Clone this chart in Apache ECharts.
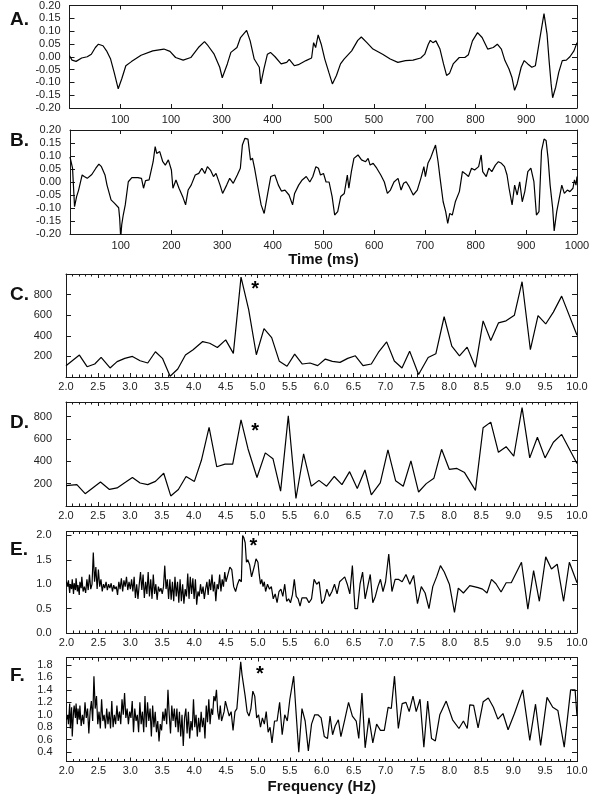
<!DOCTYPE html>
<html>
<head>
<meta charset="utf-8">
<script src="https://cdn.jsdelivr.net/npm/echarts@6/dist/echarts.min.js"></script>
<style>
  html, body { margin: 0; padding: 0; background: #fff; }
  #chart { width: 600px; height: 800px; }
</style>
</head>
<body>
<div id="chart"></div>
<script>
// ---- data ----
// A: averaged waveform, [time ms, amplitude]
const traceA = [[0,0.004],[5,-0.013],[13,-0.018],[24,-0.005],[35,0],[43,0.010],[51,0.036],[57,0.049],[66,0.043],[73,0.023],
  [81,-0.009],[88,-0.061],[96,-0.125],[103,-0.086],[111,-0.035],[122,-0.019],[141,0.006],[164,0.023],[186,0.030],[198,0.021],
  [209,-0.003],[224,-0.013],[239,-0.003],[254,0.036],[266,0.059],[273,0.043],[285,0.010],[296,-0.041],[301,-0.082],[311,-0.028],
  [318,0.017],[330,0.036],[337,0.075],[349,0.103],[356,0.062],[364,-0.009],[374,-0.041],[377,-0.106],[383,-0.048],[390,0.010],
  [396,0.017],[405,0],[417,-0.028],[428,-0.022],[433,-0.010],[443,-0.035],[451,-0.031],[466,-0.015],[477,-0.005],[481,0.055],
  [485,0.036],[490,0.085],[496,0.049],[503,-0.009],[511,-0.061],[518,-0.106],[526,-0.073],[534,-0.028],[541,-0.009],[556,0.023],
  [568,0.064],[575,0.077],[586,0.055],[598,0.030],[617,0.010],[632,-0.009],[647,-0.022],[662,-0.015],[677,-0.013],[692,-0.005],
  [700,0.010],[707,0.049],[711,0.064],[716,0.055],[722,0.062],[730,0.030],[737,-0.028],[743,-0.073],[749,-0.064],[756,-0.028],
  [768,-0.003],[779,-0.003],[786,0.008],[794,0.062],[804,0.094],[813,0.075],[824,0.030],[835,0.036],[843,0.049],[851,0.030],
  [858,-0.015],[866,-0.048],[872,-0.082],[877,-0.131],[882,-0.106],[890,-0.041],[896,-0.015],[903,-0.028],[911,-0.041],[918,-0.035],
  [926,0.062],[929,0.068],[935,0.168],[941,0.088],[945,-0.015],[949,-0.106],[952,-0.160],[958,-0.119],[964,-0.061],[971,-0.015],
  [979,-0.013],[986,0],[994,0.023],[1000,0.055]];

// B: single-trial waveform, [time ms, amplitude]
const traceB = [[0,0.097],[5,0.053],[9,-0.095],[13,-0.056],[17,-0.031],[20,-0.025],[24,0.027],[28,0.021],[34,0.014],[43,0.029],
  [51,0.053],[57,0.069],[62,0.059],[69,0.027],[73,-0.012],[81,-0.069],[88,-0.082],[96,-0.099],[98,-0.140],[100,-0.215],
  [102,-0.165],[105,-0.127],[109,-0.088],[115,0.001],[122,0.017],[134,0.017],[141,0.014],[145,-0.024],[149,0.005],[156,0.008],
  [164,0.078],[168,0.136],[171,0.110],[177,0.117],[183,0.078],[188,0.065],[194,0.085],[200,0.046],[203,-0.024],[209,0.008],
  [215,-0.024],[223,-0.060],[228,-0.088],[233,-0.031],[239,-0.012],[247,0.027],[254,0.033],[260,0.053],[266,0.033],[271,0.059],
  [277,0.046],[283,0.021],[288,0.033],[296,-0.012],[301,-0.044],[309,-0.012],[315,0.014],[322,-0.005],[330,0.027],[336,0.053],
  [340,0.142],[345,0.168],[351,0.165],[356,0.085],[360,0.091],[364,0.053],[371,-0.024],[377,-0.088],[383,-0.121],[390,-0.044],
  [396,0.021],[404,0.027],[411,-0.012],[417,-0.035],[424,-0.031],[432,-0.050],[439,-0.088],[443,-0.044],[451,-0.012],[458,0.008],
  [466,0.021],[473,0],[479,0.021],[485,0.059],[490,0.053],[494,0.027],[500,0.033],[505,0],[511,0],[517,-0.056],
  [522,-0.127],[528,-0.114],[534,-0.056],[541,-0.044],[547,0.027],[550,-0.024],[555,0.040],[560,0.091],[568,0.104],[575,0.085],
  [583,0.078],[588,0.091],[592,0.065],[598,0.072],[605,0.053],[613,0.027],[620,0],[626,-0.044],[632,-0.031],[639,0],
  [647,0.014],[653,-0.031],[658,-0.005],[663,0.001],[669,-0.018],[677,-0.050],[685,-0.031],[692,0.014],[698,0.059],[701,0.021],
  [706,0.072],[711,0.091],[716,0.117],[721,0.142],[726,0.078],[730,0.014],[736,-0.076],[741,-0.114],[745,-0.159],[749,-0.121],
  [754,-0.127],[760,-0.076],[768,-0.037],[774,0.040],[779,0.033],[786,0.021],[792,0.053],[798,0.046],[806,0.059],[811,0.104],
  [814,0.040],[821,0.021],[826,0.053],[832,0.040],[839,0.065],[845,0.078],[851,0.072],[857,0.059],[862,0.027],[866,-0.024],
  [872,-0.088],[877,-0.012],[882,-0.050],[887,0.001],[892,-0.076],[897,-0.037],[903,0.040],[909,0.053],[915,0.001],[920,-0.127],
  [925,-0.114],[930,0.120],[935,0.165],[939,0.160],[943,0.090],[947,-0.012],[952,-0.101],[955,-0.188],[960,-0.114],[965,-0.063],
  [970,-0.012],[975,-0.044],[981,-0.031],[986,-0.037],[992,-0.024],[995,0.008],[998,-0.012],[1000,0.021]];

// C, D: power spectra, [frequency Hz, power]
const spectrumC = [[2.0,110],[2.21,213],[2.33,100],[2.45,126],[2.55,190],[2.69,88],[2.80,149],[2.92,181],[3.04,200],[3.16,158],
  [3.28,136],[3.40,245],[3.51,181],[3.63,7],[3.75,78],[3.87,213],[3.99,264],[4.14,344],[4.25,328],[4.37,286],
  [4.50,360],[4.62,229],[4.74,970],[4.86,655],[4.98,216],[5.10,469],[5.22,382],[5.34,152],[5.46,104],[5.58,222],
  [5.70,126],[5.82,136],[5.94,110],[6.06,174],[6.17,152],[6.29,142],[6.41,181],[6.53,206],[6.65,110],[6.78,126],
  [6.89,238],[7.02,341],[7.14,155],[7.26,88],[7.38,251],[7.52,25],[7.67,190],[7.79,225],[7.92,585],[8.04,300],
  [8.16,205],[8.28,290],[8.41,95],[8.53,545],[8.65,355],[8.77,525],[8.89,545],[9.02,600],[9.14,925],[9.27,265],
  [9.39,595],[9.51,515],[9.63,630],[9.76,785],[10.0,405]];

const spectrumD = [[2.0,183],[2.17,191],[2.30,110],[2.54,214],[2.68,148],[2.80,162],[2.93,212],[3.04,255],[3.16,206],[3.28,191],
  [3.40,220],[3.53,293],[3.64,90],[3.76,148],[3.88,264],[4.01,220],[4.12,409],[4.24,704],[4.36,351],[4.49,374],
  [4.61,374],[4.74,771],[4.85,510],[4.99,255],[5.12,475],[5.24,423],[5.36,133],[5.48,806],[5.60,67],[5.72,467],
  [5.84,177],[5.96,229],[6.08,177],[6.20,264],[6.32,191],[6.44,307],[6.56,157],[6.68,322],[6.78,99],[6.92,206],
  [7.04,501],[7.16,226],[7.28,177],[7.40,403],[7.52,125],[7.64,200],[7.76,249],[7.88,507],[8.00,328],[8.12,336],
  [8.24,299],[8.41,140],[8.53,700],[8.65,750],[8.77,480],[8.89,530],[9.01,445],[9.14,880],[9.26,430],[9.38,615],
  [9.50,430],[9.63,570],[9.76,640],[10.0,380]];

// E, F: normalised spectra, [frequency Hz, ratio]
const ratioE = [[2.00,1.05],[2.02,0.95],[2.03,1.08],[2.05,0.82],[2.06,1.00],[2.08,0.90],[2.09,1.10],[2.11,0.80],[2.12,1.02],[2.14,0.88],
  [2.15,1.12],[2.17,0.85],[2.18,0.98],[2.20,0.78],[2.21,1.05],[2.23,0.92],[2.24,1.15],[2.26,0.85],[2.28,0.95],[2.30,0.82],
  [2.32,1.10],[2.34,0.88],[2.36,1.20],[2.38,0.90],[2.40,1.00],[2.42,1.65],[2.44,1.05],[2.46,1.35],[2.48,0.90],[2.50,1.30],
  [2.52,0.95],[2.54,1.10],[2.56,0.85],[2.58,1.00],[2.60,0.92],[2.62,1.05],[2.64,0.88],[2.66,1.00],[2.68,0.92],[2.70,1.02],
  [2.72,0.85],[2.74,0.98],[2.76,0.90],[2.78,0.95],[2.80,0.78],[2.82,1.05],[2.84,0.90],[2.86,1.12],[2.88,0.85],[2.90,1.08],
  [2.92,0.95],[2.94,1.15],[2.96,0.88],[2.98,1.05],[3.00,0.90],[3.02,1.10],[3.04,0.85],[3.06,1.15],[3.08,0.72],[3.10,1.00],
  [3.12,0.70],[3.14,1.00],[3.16,1.25],[3.18,0.88],[3.20,1.20],[3.22,0.72],[3.24,1.05],[3.26,0.80],[3.28,1.25],[3.30,0.75],
  [3.32,1.10],[3.34,0.70],[3.36,1.20],[3.38,0.80],[3.40,1.00],[3.42,0.68],[3.44,0.95],[3.46,0.85],[3.48,0.92],[3.50,0.80],
  [3.52,0.95],[3.54,1.38],[3.56,0.90],[3.58,1.10],[3.60,0.70],[3.62,1.10],[3.64,0.68],[3.66,1.05],[3.68,0.65],[3.70,1.15],
  [3.72,0.75],[3.74,1.05],[3.76,0.62],[3.78,1.10],[3.80,0.65],[3.82,1.00],[3.84,0.60],[3.86,0.90],[3.88,0.75],[3.90,1.22],
  [3.92,0.70],[3.94,1.15],[3.96,0.80],[3.98,1.12],[4.00,0.70],[4.02,1.10],[4.04,0.58],[4.06,0.85],[4.08,0.75],[4.10,1.00],
  [4.12,0.80],[4.14,0.95],[4.16,0.70],[4.18,0.90],[4.20,1.05],[4.22,0.78],[4.24,1.10],[4.26,0.88],[4.28,1.20],[4.30,0.85],
  [4.32,1.05],[4.34,0.65],[4.36,1.00],[4.38,0.90],[4.40,1.20],[4.42,0.85],[4.44,1.10],[4.46,0.95],[4.48,1.25],[4.50,1.05],
  [4.53,1.20],[4.56,1.35],[4.59,1.30],[4.62,0.95],[4.65,0.85],[4.68,1.00],[4.71,1.10],[4.74,1.05],[4.76,2.00],[4.78,1.95],
  [4.80,1.85],[4.82,1.45],[4.84,1.50],[4.87,1.40],[4.90,1.15],[4.92,1.25],[4.95,1.40],[4.97,1.52],[5.00,1.45],[5.02,1.20],
  [5.04,1.00],[5.06,1.10],[5.08,0.95],[5.10,1.05],[5.12,0.85],[5.15,1.00],[5.18,0.90],[5.21,0.95],[5.24,0.70],[5.27,0.80],
  [5.30,0.62],[5.33,0.85],[5.36,0.90],[5.39,0.75],[5.42,1.00],[5.45,0.65],[5.48,0.70],[5.51,0.62],[5.54,0.78],[5.57,1.10],
  [5.60,0.75],[5.63,0.70],[5.66,0.55],[5.69,0.72],[5.72,0.72],[5.76,0.72],[5.80,0.62],[5.84,0.70],[5.88,1.10],[5.92,1.00],
  [5.96,1.05],[6.00,0.60],[6.04,0.68],[6.08,0.90],[6.12,0.75],[6.16,0.85],[6.20,1.00],[6.24,0.80],[6.28,1.05],[6.32,1.10],
  [6.36,1.15],[6.40,1.00],[6.44,0.80],[6.48,1.38],[6.52,0.50],[6.56,0.50],[6.60,1.00],[6.64,1.25],[6.68,0.70],[6.72,0.95],
  [6.76,1.20],[6.80,0.62],[6.84,0.75],[6.88,0.95],[6.92,1.10],[6.96,0.85],[7.00,1.05],[7.05,1.62],[7.10,0.85],[7.15,1.10],
  [7.20,1.10],[7.26,1.05],[7.32,1.20],[7.38,1.00],[7.44,1.18],[7.50,0.60],[7.56,0.95],[7.62,0.82],[7.68,0.50],[7.74,0.95],
  [7.80,1.15],[7.86,1.38],[7.92,1.25],[8.00,1.00],[8.08,0.42],[8.14,0.92],[8.22,0.82],[8.32,0.97],[8.45,0.93],[8.52,0.90],
  [8.59,0.82],[8.66,1.10],[8.73,1.01],[8.81,0.84],[8.89,1.03],[8.97,1.03],[9.13,1.45],[9.23,0.49],[9.32,1.28],[9.41,0.65],
  [9.51,1.56],[9.60,1.31],[9.69,1.41],[9.79,0.65],[9.88,1.45],[10.0,1.03]];

const ratioF = [[2.00,0.92],[2.02,1.00],[2.03,0.85],[2.05,1.18],[2.06,0.78],[2.08,1.12],[2.09,0.65],[2.11,1.05],[2.12,1.15],[2.14,0.95],
  [2.15,1.18],[2.17,0.85],[2.18,1.10],[2.20,0.92],[2.21,1.15],[2.23,0.82],[2.25,1.00],[2.27,0.85],[2.29,1.20],[2.31,0.95],
  [2.33,1.10],[2.35,0.70],[2.37,1.05],[2.39,1.22],[2.41,0.90],[2.43,1.62],[2.45,1.10],[2.47,1.30],[2.49,0.85],[2.51,1.05],
  [2.53,0.78],[2.55,1.25],[2.57,0.90],[2.59,1.00],[2.61,0.78],[2.63,1.10],[2.65,0.85],[2.67,1.05],[2.69,0.78],[2.71,1.22],
  [2.73,0.80],[2.75,1.00],[2.77,0.85],[2.79,1.15],[2.81,0.90],[2.83,1.05],[2.85,0.85],[2.87,1.25],[2.89,1.00],[2.91,1.35],
  [2.93,0.95],[2.95,1.10],[2.97,0.85],[2.99,1.05],[3.01,0.95],[3.03,1.22],[3.05,0.72],[3.07,1.10],[3.09,0.90],[3.11,1.00],
  [3.13,0.72],[3.15,1.20],[3.17,0.85],[3.19,1.05],[3.21,0.72],[3.23,1.30],[3.25,0.80],[3.27,1.20],[3.29,0.90],[3.31,1.10],
  [3.33,0.65],[3.35,1.15],[3.37,0.80],[3.39,1.05],[3.41,0.72],[3.43,0.90],[3.45,0.57],[3.47,0.85],[3.49,0.75],[3.51,1.05],
  [3.53,0.90],[3.55,1.10],[3.57,0.85],[3.59,1.40],[3.61,1.00],[3.63,0.70],[3.65,1.15],[3.67,0.90],[3.69,1.10],[3.71,0.80],
  [3.73,1.10],[3.75,0.72],[3.77,1.05],[3.79,0.65],[3.81,1.00],[3.83,0.50],[3.85,0.95],[3.87,1.10],[3.89,0.70],[3.91,1.05],
  [3.93,0.62],[3.95,0.90],[3.97,0.75],[3.99,1.25],[4.01,0.80],[4.03,1.00],[4.05,0.65],[4.07,0.95],[4.09,0.72],[4.11,1.05],
  [4.13,0.80],[4.15,0.95],[4.17,0.62],[4.19,1.15],[4.21,0.88],[4.23,1.25],[4.25,0.85],[4.27,1.10],[4.29,1.00],[4.31,1.30],
  [4.33,1.22],[4.35,1.40],[4.37,1.05],[4.39,0.92],[4.41,1.15],[4.43,0.90],[4.45,0.92],[4.47,1.05],[4.49,1.22],[4.52,1.25],
  [4.55,0.98],[4.58,1.05],[4.61,0.75],[4.64,1.05],[4.67,1.10],[4.70,1.08],[4.73,1.85],[4.75,1.65],[4.78,1.68],[4.80,1.30],
  [4.83,1.05],[4.86,0.98],[4.89,1.10],[4.92,1.38],[4.95,1.30],[4.98,0.95],[5.01,1.00],[5.04,0.80],[5.07,0.95],[5.10,0.85],
  [5.13,1.05],[5.16,0.72],[5.19,0.80],[5.22,0.55],[5.26,0.90],[5.30,0.90],[5.34,1.20],[5.38,0.68],[5.42,1.00],[5.46,0.90],
  [5.50,1.25],[5.56,1.62],[5.60,1.00],[5.64,0.40],[5.69,1.10],[5.74,0.90],[5.79,0.42],[5.84,0.85],[5.89,1.00],[5.94,1.00],
  [5.99,0.95],[6.04,0.65],[6.09,0.62],[6.13,0.98],[6.17,0.68],[6.21,0.82],[6.26,0.92],[6.30,0.65],[6.36,0.92],[6.42,1.20],
  [6.48,0.98],[6.54,0.90],[6.58,0.62],[6.63,1.35],[6.68,0.47],[6.74,0.95],[6.80,0.55],[6.86,0.85],[6.92,0.75],[6.98,0.75],
  [7.04,1.12],[7.09,1.10],[7.14,1.62],[7.20,0.78],[7.26,1.18],[7.32,1.20],[7.37,1.05],[7.43,1.30],[7.48,1.05],[7.54,1.25],
  [7.60,0.48],[7.66,1.22],[7.72,0.62],[7.78,0.58],[7.85,1.00],[7.95,1.22],[8.05,0.92],[8.15,0.78],[8.22,0.90],[8.28,0.78],
  [8.32,1.16],[8.38,1.15],[8.45,0.79],[8.53,1.21],[8.61,1.27],[8.69,1.12],[8.76,0.93],[8.84,1.02],[8.92,0.76],[9.02,1.02],
  [9.15,1.40],[9.26,0.59],[9.35,1.17],[9.43,0.51],[9.53,1.28],[9.62,1.12],[9.70,1.07],[9.80,0.48],[9.90,1.40],[9.97,1.40],
  [10.0,0.98]];

// tick labels as printed (panel A has the original's repeated labels)
const timeLabelsA = ['100', '100', '300', '400', '500', '500', '700', '800', '900', '1000'];
const timeLabelsB = ['100', '200', '300', '400', '500', '600', '700', '800', '900', '1000'];
const ampTicks = [-0.2, -0.15, -0.1, -0.05, 0, 0.05, 0.1, 0.15, 0.2];
const powerTicks = [200, 400, 600, 800];
const powerMinorTicksD = [100, 200, 300, 400, 500, 600, 700, 800];
const ratioTicksE = [0, 0.5, 1.0, 1.5, 2.0];
const ratioTicksF = [0.4, 0.6, 0.8, 1.0, 1.2, 1.4, 1.6, 1.8];

// asterisks marking the peak near 4.9 Hz
const starFreq = [4.96, 4.96, 4.93, 5.03];
const starLevel = [850, 670, 1.78, 1.64];

const chart = echarts.init(document.getElementById('chart'));

const FONT = 'Liberation Sans';
const INK = '#1a1a1a';

const grids = [
  { left: 69.5, top: 4, width: 507.5, height: 104 },
  { left: 70, top: 130, width: 507, height: 104 },
  { left: 66, top: 274, width: 511, height: 103 },
  { left: 66, top: 402, width: 511, height: 104 },
  { left: 66.5, top: 531.5, width: 510.5, height: 101.5 },
  { left: 66.5, top: 657.5, width: 510.5, height: 104 }
];

const lineStyle = { color: INK, width: 1 };

// two x axes per panel (bottom with labels, top with ticks only)
function timeAxes(gi, labels, name) {
  const base = {
    type: 'value', gridIndex: gi, min: 0, max: 1000, interval: 100,
    axisLine: { show: true, onZero: false, lineStyle },
    axisTick: { show: true, inside: true, length: 4, lineStyle },
    splitLine: { show: false }
  };
  return [
    Object.assign({}, base, {
      position: 'bottom',
      axisLabel: {
        fontFamily: FONT, fontSize: 11, color: '#222', margin: 6,
        formatter: v => (v === 0 ? '' : labels[Math.round(v / 100) - 1])
      },
      name: name || '', nameLocation: 'middle', nameGap: 15,
      nameTextStyle: { fontFamily: FONT, fontSize: 15, fontWeight: 'bold', color: '#111', verticalAlign: 'top' }
    }),
    Object.assign({}, base, { position: 'top', axisLabel: { show: false } })
  ];
}

function freqAxes(gi, name) {
  const base = {
    type: 'value', gridIndex: gi, min: 2, max: 10, interval: 0.5,
    axisLine: { show: true, onZero: false, lineStyle },
    axisTick: { show: true, inside: true, length: 4, lineStyle },
    minorTick: { show: true, splitNumber: 5, length: 2.5, lineStyle },
    splitLine: { show: false }, minorSplitLine: { show: false }
  };
  return [
    Object.assign({}, base, {
      position: 'bottom',
      axisLabel: { fontFamily: FONT, fontSize: 11, color: '#222', margin: 4, formatter: v => v.toFixed(1) },
      name: name || '', nameLocation: 'middle', nameGap: 18,
      nameTextStyle: { fontFamily: FONT, fontSize: 15, fontWeight: 'bold', color: '#111', verticalAlign: 'top' }
    }),
    Object.assign({}, base, { position: 'top', axisLabel: { show: false } })
  ];
}

// two y axes per panel (left with labels, right with ticks only)
function valueAxes(gi, min, max, labelVals, rightTicks, digits, margin) {
  const base = {
    type: 'value', gridIndex: gi, min, max,
    axisLine: { show: true, onZero: false, lineStyle },
    splitLine: { show: false }
  };
  return [
    Object.assign({}, base, {
      position: 'left',
      axisTick: { show: true, inside: true, length: 5, lineStyle, customValues: labelVals },
      axisLabel: {
        fontFamily: FONT, fontSize: 11, color: '#222', margin,
        customValues: labelVals, formatter: v => v.toFixed(digits)
      }
    }),
    Object.assign({}, base, {
      position: 'right',
      axisTick: { show: true, inside: true, length: 5, lineStyle, customValues: rightTicks },
      axisLabel: { show: false }
    })
  ];
}

const xAxis = [].concat(
  timeAxes(0, timeLabelsA),
  timeAxes(1, timeLabelsB, 'Time (ms)'),
  freqAxes(2), freqAxes(3), freqAxes(4),
  freqAxes(5, 'Frequency (Hz)')
);

const yAxis = [].concat(
  valueAxes(0, -0.2, 0.2, ampTicks, ampTicks, 2, 9),
  valueAxes(1, -0.2, 0.2, ampTicks, ampTicks, 2, 9),
  valueAxes(2, 0, 1000, powerTicks, powerTicks, 0, 14),
  valueAxes(3, 0, 930, powerTicks, powerMinorTicksD, 0, 14),
  valueAxes(4, 0, 2.08, ratioTicksE, ratioTicksE, 1, 15),
  valueAxes(5, 0.25, 1.92, ratioTicksF, ratioTicksF, 1, 14)
);

const traces = [traceA, traceB, spectrumC, spectrumD, ratioE, ratioF];

const series = traces.map((data, i) => {
  const s = {
    type: 'line', data, xAxisIndex: i * 2, yAxisIndex: i * 2,
    showSymbol: false, symbol: 'none', animation: false, clip: true,
    lineStyle: { color: '#000', width: 1.2 }
  };
  if (i >= 2) {
    s.markPoint = {
      symbol: 'circle', symbolSize: 1, animation: false,
      itemStyle: { color: 'rgba(0,0,0,0)' },
      label: { show: true, position: 'inside', formatter: '*', fontFamily: FONT, fontSize: 20, fontWeight: 'bold', color: '#000' },
      data: [{ coord: [starFreq[i - 2], starLevel[i - 2]] }]
    };
  }
  return s;
});

const letters = ['A.', 'B.', 'C.', 'D.', 'E.', 'F.'];
const letterY = [21, 142, 296, 424, 551, 677];

chart.setOption({
  animation: false,
  backgroundColor: '#fff',
  grid: grids,
  xAxis,
  yAxis,
  series,
  graphic: letters.map((t, i) => ({
    type: 'text', left: 10, top: letterY[i] - 11,
    style: { text: t, fontFamily: FONT, fontSize: 19, fontWeight: 'bold', fill: '#111' }
  }))
});
</script>
</body>
</html>
